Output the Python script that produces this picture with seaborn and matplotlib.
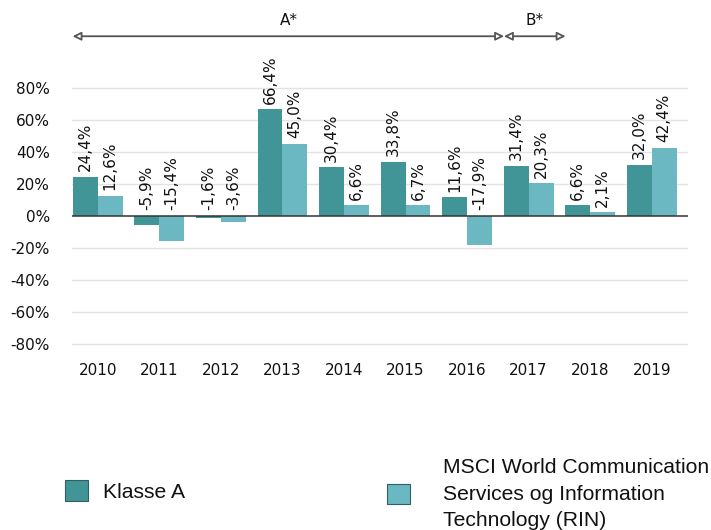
import pandas as pd
import seaborn as sns
import matplotlib.pyplot as plt
from matplotlib.patches import Patch

# yearly returns in percent
years = ["2010", "2011", "2012", "2013", "2014", "2015", "2016", "2017", "2018", "2019"]
klasse_a = [24.4, -5.9, -1.6, 66.4, 30.4, 33.8, 11.6, 31.4, 6.6, 32.0]
msci = [12.6, -15.4, -3.6, 45.0, 6.6, 6.7, -17.9, 20.3, 2.1, 42.4]
series_names = ["Klasse A", "MSCI World Communication\nServices og Information\nTechnology (RIN)"]
y_ticks = [-80, -60, -40, -20, 0, 20, 40, 60, 80]

dark = "#429596"
light = "#6cb8c2"

df = pd.DataFrame({
    "year": years * 2,
    "ret": klasse_a + msci,
    "serie": [series_names[0]] * len(years) + [series_names[1]] * len(years),
})

sns.set_style("white")
fig = plt.figure(figsize=(7.11, 5.30), dpi=100)
ax = fig.add_axes([72 / 711, 1 - 357 / 530, 616 / 711, 357 / 530])

sns.barplot(data=df, x="year", y="ret", hue="serie", palette=[dark, light],
            width=0.81, saturation=1, linewidth=0, ax=ax, legend=False)

ax.set_xlim(-0.42, 9.59)
ax.set_ylim(-88, 134.6)
ax.set_yticks(y_ticks)
ax.set_yticklabels([f"{t}%" for t in y_ticks])
for t in y_ticks:
    if t != 0:
        ax.axhline(t, color="#e3e3e3", lw=1, zorder=0)
ax.axhline(0, color="#333333", lw=1.1, zorder=3)
for s in ax.spines.values():
    s.set_visible(False)
ax.tick_params(axis="y", length=0, pad=16, labelsize=11, labelcolor="#111")
ax.tick_params(axis="x", length=0, pad=4, labelsize=11, labelcolor="#111")
ax.set_xlabel("")
ax.set_ylabel("")

# value labels
for cont, vals in zip(ax.containers, [klasse_a, msci]):
    for bar, v in zip(cont, vals):
        xc = bar.get_x() + bar.get_width() / 2
        ax.annotate(f"{v:.1f}%".replace(".", ","), (xc, max(v, 0)),
                    xytext=(0, 4), textcoords="offset points",
                    rotation=90, ha="center", va="bottom", fontsize=11, color="#111")

# period arrows
arrow_kw = dict(arrowstyle="<|-|>,head_length=0.5,head_width=0.25", fc="white", ec="#555", lw=1.3,
                shrinkA=0, shrinkB=0)
ax.annotate("", xy=(6.6, 112), xytext=(-0.41, 112), arrowprops=arrow_kw)
ax.annotate("", xy=(7.6, 112), xytext=(6.6, 112), arrowprops=arrow_kw)
ax.text(3.1, 122, "A*", ha="center", va="center", fontsize=11, color="#111")
ax.text(7.1, 122, "B*", ha="center", va="center", fontsize=11, color="#111")

# legend
leg_font = {"family": "Liberation Sans", "size": 15.2}
for name, col, xpos, ypos, pad in zip(series_names, [dark, light], [65 / 711, 387 / 711],
                                      [1 - 491 / 530, 1 - 494 / 530], [0.7, 1.55]):
    lg = fig.legend(handles=[Patch(facecolor=col, edgecolor="#2f5f60", lw=0.8)], labels=[name],
                    loc="center left", bbox_to_anchor=(xpos, ypos),
                    frameon=False, borderpad=0, borderaxespad=0,
                    handlelength=1.1, handleheight=1.1, handletextpad=pad, prop=leg_font)
    for txt in lg.get_texts():
        txt.set_linespacing(1.52)
        txt.set_color("#111")

fig.savefig("out.png", dpi=100)
